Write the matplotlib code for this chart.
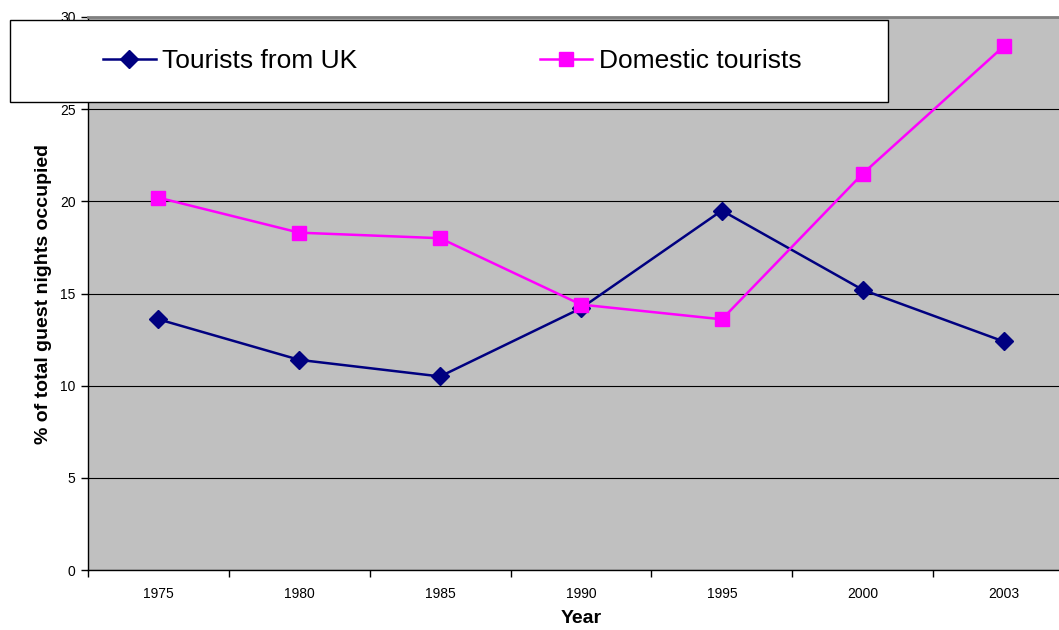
import matplotlib.pyplot as plt
from matplotlib.patches import Rectangle

plt.rcParams['font.family'] = ['Liberation Sans', 'DejaVu Sans']

years = ['1975', '1980', '1985', '1990', '1995', '2000', '2003']
uk_tourists = [13.6, 11.4, 10.5, 14.2, 19.5, 15.2, 12.4]
domestic_tourists = [20.2, 18.3, 18.0, 14.4, 13.6, 21.5, 28.4]

W, H = 1059, 630
fig = plt.figure(figsize=(W / 100, H / 100), dpi=100)
ax = fig.add_axes([88 / W, 60 / H, 986 / W, 553 / H])
ax.set_facecolor('#C0C0C0')

x = list(range(len(years)))
ax.plot(x, uk_tourists, color='#000080', lw=1.8, marker='D', ms=9.5,
        label='Tourists from UK', zorder=3)
ax.plot(x, domestic_tourists, color='#FF00FF', lw=1.8, marker='s', ms=10,
        label='Domestic tourists', zorder=3)

ax.set_xlim(-0.5, len(years) - 0.5)
ax.set_ylim(0, 30)
ax.set_yticks(range(0, 31, 5))
ax.yaxis.grid(True, color='black', lw=0.8)
ax.set_axisbelow(True)

# ticks at category boundaries, labels at centres
ax.set_xticks([i - 0.5 for i in range(len(years) + 1)])
ax.set_xticklabels([])
ax.set_xticks(x, minor=True)
ax.set_xticklabels(years, minor=True)
ax.tick_params(axis='x', which='minor', length=0, pad=12, labelsize=10)
ax.tick_params(axis='x', which='major', length=5, width=1)
ax.tick_params(axis='y', length=5, width=1, pad=4, labelsize=10)

for s in ['left', 'bottom']:
    ax.spines[s].set_color('black')
    ax.spines[s].set_linewidth(1)
ax.spines['top'].set_color('#808080')
ax.spines['top'].set_linewidth(2)
ax.spines['right'].set_visible(False)

ax.set_xlabel('Year', fontsize=14, fontweight='bold', labelpad=7)
ax.set_ylabel('% of total guest nights occupied', fontsize=14,
              fontweight='bold', labelpad=6)

# legend box overlapping the top of the plot
fig.patches.append(Rectangle((10 / W, 1 - 102 / H), 878 / W, 82 / H,
                             transform=fig.transFigure, facecolor='white',
                             edgecolor='black', lw=1, zorder=4))
leg = fig.legend(loc='center left', bbox_to_anchor=(103 / W, 1 - 61 / H),
                 ncol=2, frameon=False, fontsize=19, handlelength=2.0,
                 handletextpad=0.25, columnspacing=6.9, borderpad=0,
                 borderaxespad=0)
leg.set_zorder(5)

fig.savefig('out.png', dpi=100)
